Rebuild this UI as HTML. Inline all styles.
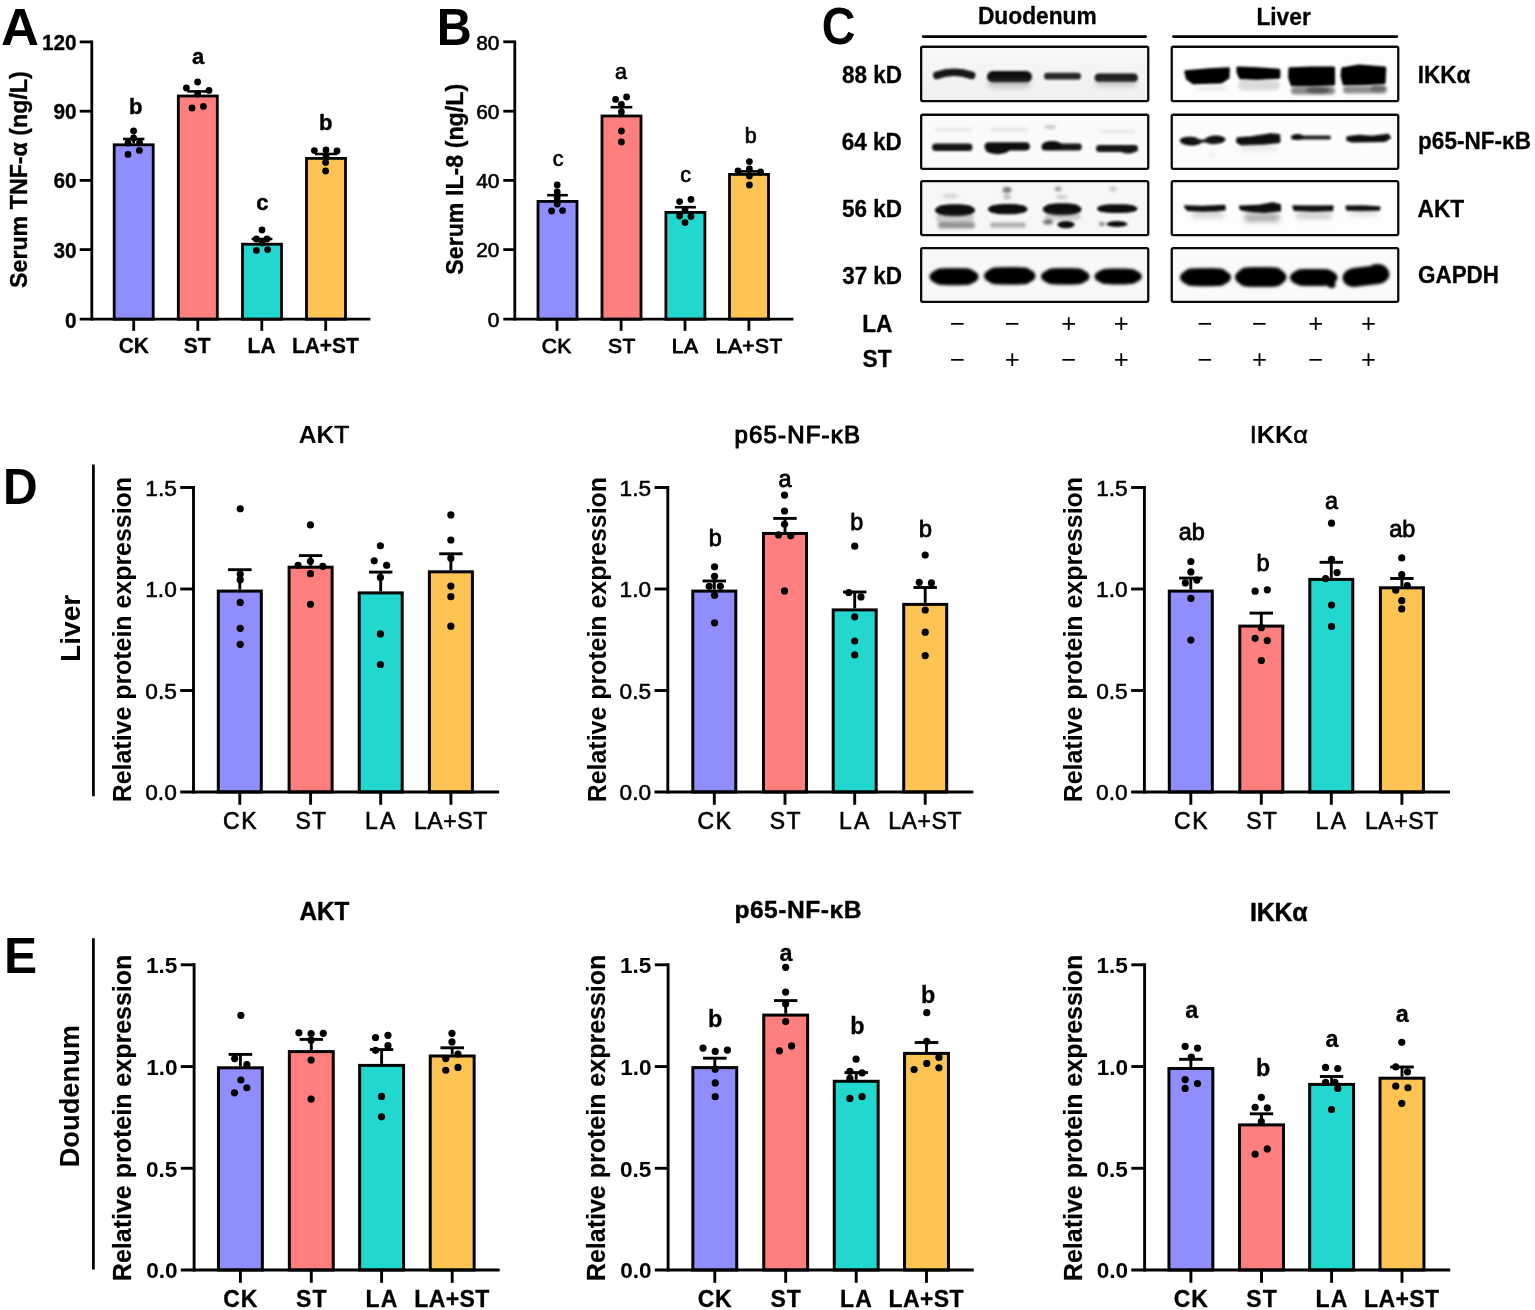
<!DOCTYPE html>
<html lang="en">
<head>
<meta charset="utf-8">
<title>Figure</title>
<style>
html,body{margin:0;padding:0;background:#fff;}
body{width:1535px;height:1310px;overflow:hidden;font-family:"Liberation Sans",sans-serif;}
svg{display:block;}
text{font-family:"Liberation Sans",sans-serif;}
</style>
</head>
<body>
<svg width="1535" height="1310" viewBox="0 0 1535 1310" role="img" aria-label="Figure with panels A to E">
<rect x="0" y="0" width="1535" height="1310" fill="#fff"/>
<g>
<rect x="114.2" y="144.8" width="39" height="174.4" fill="#908EFC" stroke="#000" stroke-width="2.8"/>
<rect x="178.3" y="96" width="39" height="223.2" fill="#FF7F7F" stroke="#000" stroke-width="2.8"/>
<rect x="242.5" y="244.2" width="39" height="75" fill="#22D8CE" stroke="#000" stroke-width="2.8"/>
<rect x="306.5" y="158.4" width="39" height="160.8" fill="#FDC453" stroke="#000" stroke-width="2.8"/>
<line x1="91.8" y1="40.5" x2="91.8" y2="320.6" stroke="#000" stroke-width="2.8"/>
<line x1="79.7" y1="319.2" x2="370.4" y2="319.2" stroke="#000" stroke-width="2.8"/>
<line x1="79.7" y1="41.9" x2="91.8" y2="41.9" stroke="#000" stroke-width="2.8"/>
<line x1="79.7" y1="111.2" x2="91.8" y2="111.2" stroke="#000" stroke-width="2.8"/>
<line x1="79.7" y1="180.4" x2="91.8" y2="180.4" stroke="#000" stroke-width="2.8"/>
<line x1="79.7" y1="249.6" x2="91.8" y2="249.6" stroke="#000" stroke-width="2.8"/>
<line x1="133.7" y1="319.2" x2="133.7" y2="330.8" stroke="#000" stroke-width="2.8"/>
<line x1="197.8" y1="319.2" x2="197.8" y2="330.8" stroke="#000" stroke-width="2.8"/>
<line x1="261.8" y1="319.2" x2="261.8" y2="330.8" stroke="#000" stroke-width="2.8"/>
<line x1="325.7" y1="319.2" x2="325.7" y2="330.8" stroke="#000" stroke-width="2.8"/>
<line x1="133.7" y1="139" x2="133.7" y2="143.4" stroke="#000" stroke-width="2.6"/>
<line x1="123" y1="139" x2="144.4" y2="139" stroke="#000" stroke-width="2.6"/>
<line x1="197.8" y1="91.4" x2="197.8" y2="94.6" stroke="#000" stroke-width="2.6"/>
<line x1="187.3" y1="91.4" x2="208.3" y2="91.4" stroke="#000" stroke-width="2.6"/>
<line x1="262" y1="239" x2="262" y2="242.8" stroke="#000" stroke-width="2.6"/>
<line x1="251.6" y1="239" x2="272.4" y2="239" stroke="#000" stroke-width="2.6"/>
<line x1="326" y1="154" x2="326" y2="157" stroke="#000" stroke-width="2.6"/>
<line x1="315" y1="154" x2="337" y2="154" stroke="#000" stroke-width="2.6"/>
<g fill="#000">
<circle cx="133.6" cy="131" r="3.4"/>
<circle cx="133.6" cy="138" r="3.4"/>
<circle cx="128" cy="143" r="3.4"/>
<circle cx="139.6" cy="142.4" r="3.4"/>
<circle cx="128" cy="154.4" r="3.4"/>
<circle cx="139.4" cy="150.4" r="3.4"/>
<circle cx="197.6" cy="82" r="3.4"/>
<circle cx="186.4" cy="88" r="3.4"/>
<circle cx="209" cy="90.4" r="3.4"/>
<circle cx="192" cy="108" r="3.4"/>
<circle cx="203.4" cy="106.4" r="3.4"/>
<circle cx="197.6" cy="94" r="3.4"/>
<circle cx="262" cy="230" r="3.4"/>
<circle cx="256.4" cy="239" r="3.4"/>
<circle cx="267" cy="239" r="3.4"/>
<circle cx="256.4" cy="250.4" r="3.4"/>
<circle cx="267.6" cy="249.6" r="3.4"/>
<circle cx="262" cy="243" r="3.4"/>
<circle cx="314.4" cy="150.6" r="3.4"/>
<circle cx="326" cy="150" r="3.4"/>
<circle cx="337" cy="151" r="3.4"/>
<circle cx="326" cy="156.4" r="3.4"/>
<circle cx="325.6" cy="162.4" r="3.4"/>
<circle cx="325.6" cy="171" r="3.4"/>
</g>
</g>
<text transform="translate(1.09,44.8) scale(1.0089,1)" font-size="52.07" font-weight="bold">A</text>
<text transform="translate(41.91,50.06) scale(0.9450,1)" font-size="22" font-weight="bold" stroke="#000" stroke-width="0.3" stroke-linejoin="round">120</text>
<text transform="translate(53.5,119.16) scale(0.9450,1)" font-size="22" font-weight="bold" stroke="#000" stroke-width="0.3" stroke-linejoin="round">90</text>
<text transform="translate(53.5,188.36) scale(0.9450,1)" font-size="22" font-weight="bold" stroke="#000" stroke-width="0.3" stroke-linejoin="round">60</text>
<text transform="translate(53.5,257.74) scale(0.9450,1)" font-size="22" font-weight="bold" stroke="#000" stroke-width="0.3" stroke-linejoin="round">30</text>
<text transform="translate(65.04,327.76) scale(0.9450,1)" font-size="22" font-weight="bold" stroke="#000" stroke-width="0.3" stroke-linejoin="round">0</text>
<text transform="translate(118.73,352.9) scale(0.9450,1)" font-size="22.2" font-weight="bold" stroke="#000" stroke-width="0.3" stroke-linejoin="round">CK</text>
<text transform="translate(183.79,352.9) scale(0.9450,1)" font-size="22.2" font-weight="bold" stroke="#000" stroke-width="0.3" stroke-linejoin="round">ST</text>
<text transform="translate(247.6,352.9) scale(0.9450,1)" font-size="22.2" font-weight="bold" stroke="#000" stroke-width="0.3" stroke-linejoin="round">LA</text>
<text transform="translate(291.88,352.9) scale(0.9450,1)" font-size="22.2" font-weight="bold" stroke="#000" stroke-width="0.3" stroke-linejoin="round">LA+ST</text>
<text transform="translate(129.01,113.6)" font-size="22" font-weight="bold" stroke="#000" stroke-width="0.4" stroke-linejoin="round">b</text>
<text transform="translate(191.88,64.4)" font-size="22" font-weight="bold" stroke="#000" stroke-width="0.4" stroke-linejoin="round">a</text>
<text transform="translate(256.26,210)" font-size="22" font-weight="bold" stroke="#000" stroke-width="0.4" stroke-linejoin="round">c</text>
<text transform="translate(319.01,130.4)" font-size="22" font-weight="bold" stroke="#000" stroke-width="0.4" stroke-linejoin="round">b</text>
<text transform="translate(27.3,287.99) rotate(-90) scale(0.9970,1)" font-size="23.3" font-weight="bold" stroke="#000" stroke-width="0.35" stroke-linejoin="round">Serum TNF-α (ng/L)</text>
<g>
<rect x="538" y="201.4" width="39" height="117.8" fill="#908EFC" stroke="#000" stroke-width="2.8"/>
<rect x="602" y="116" width="39" height="203.2" fill="#FF7F7F" stroke="#000" stroke-width="2.8"/>
<rect x="665.9" y="212.4" width="39" height="106.8" fill="#22D8CE" stroke="#000" stroke-width="2.8"/>
<rect x="729.5" y="174.4" width="39" height="144.8" fill="#FDC453" stroke="#000" stroke-width="2.8"/>
<line x1="514.8" y1="40.5" x2="514.8" y2="320.6" stroke="#000" stroke-width="2.8"/>
<line x1="503.3" y1="319.2" x2="793.4" y2="319.2" stroke="#000" stroke-width="2.8"/>
<line x1="503.3" y1="41.8" x2="514.8" y2="41.8" stroke="#000" stroke-width="2.8"/>
<line x1="503.3" y1="111.2" x2="514.8" y2="111.2" stroke="#000" stroke-width="2.8"/>
<line x1="503.3" y1="180.4" x2="514.8" y2="180.4" stroke="#000" stroke-width="2.8"/>
<line x1="503.3" y1="249.6" x2="514.8" y2="249.6" stroke="#000" stroke-width="2.8"/>
<line x1="557" y1="319.2" x2="557" y2="330.8" stroke="#000" stroke-width="2.8"/>
<line x1="621.1" y1="319.2" x2="621.1" y2="330.8" stroke="#000" stroke-width="2.8"/>
<line x1="685" y1="319.2" x2="685" y2="330.8" stroke="#000" stroke-width="2.8"/>
<line x1="748.9" y1="319.2" x2="748.9" y2="330.8" stroke="#000" stroke-width="2.8"/>
<line x1="557.5" y1="195.2" x2="557.5" y2="200" stroke="#000" stroke-width="2.6"/>
<line x1="547.2" y1="195.2" x2="567.8" y2="195.2" stroke="#000" stroke-width="2.6"/>
<line x1="621.5" y1="107.2" x2="621.5" y2="114.6" stroke="#000" stroke-width="2.6"/>
<line x1="610.7" y1="107.2" x2="632.3" y2="107.2" stroke="#000" stroke-width="2.6"/>
<line x1="685.4" y1="207.2" x2="685.4" y2="211" stroke="#000" stroke-width="2.6"/>
<line x1="674.9" y1="207.2" x2="695.9" y2="207.2" stroke="#000" stroke-width="2.6"/>
<line x1="749" y1="171.4" x2="749" y2="173" stroke="#000" stroke-width="2.6"/>
<line x1="738.5" y1="171.4" x2="759.5" y2="171.4" stroke="#000" stroke-width="2.6"/>
<g fill="#000">
<circle cx="557.2" cy="185" r="3.4"/>
<circle cx="557.2" cy="192" r="3.4"/>
<circle cx="557.2" cy="198" r="3.4"/>
<circle cx="557.2" cy="204" r="3.4"/>
<circle cx="551.6" cy="211" r="3.4"/>
<circle cx="562.6" cy="210.6" r="3.4"/>
<circle cx="615.6" cy="99.4" r="3.4"/>
<circle cx="626.6" cy="97" r="3.4"/>
<circle cx="621.4" cy="104.4" r="3.4"/>
<circle cx="621.4" cy="112" r="3.4"/>
<circle cx="621.4" cy="131" r="3.4"/>
<circle cx="621.4" cy="142" r="3.4"/>
<circle cx="679.6" cy="201.6" r="3.4"/>
<circle cx="691" cy="199.4" r="3.4"/>
<circle cx="685" cy="210" r="3.4"/>
<circle cx="679.6" cy="216" r="3.4"/>
<circle cx="691" cy="216.4" r="3.4"/>
<circle cx="685" cy="222.6" r="3.4"/>
<circle cx="749.4" cy="161.6" r="3.4"/>
<circle cx="738" cy="171" r="3.4"/>
<circle cx="749.4" cy="169" r="3.4"/>
<circle cx="760.6" cy="172" r="3.4"/>
<circle cx="749.4" cy="176" r="3.4"/>
<circle cx="749.4" cy="185" r="3.4"/>
</g>
</g>
<text transform="translate(436.82,45) scale(0.9319,1)" font-size="52.07" font-weight="bold">B</text>
<text transform="translate(476.18,49.68)" font-size="20.9" stroke="#000" stroke-width="0.6" stroke-linejoin="round">80</text>
<text transform="translate(476.18,118.78)" font-size="20.9" stroke="#000" stroke-width="0.6" stroke-linejoin="round">60</text>
<text transform="translate(476.18,187.98)" font-size="20.9" stroke="#000" stroke-width="0.6" stroke-linejoin="round">40</text>
<text transform="translate(476.18,257.38)" font-size="20.9" stroke="#000" stroke-width="0.6" stroke-linejoin="round">20</text>
<text transform="translate(487.78,327.38)" font-size="20.9" stroke="#000" stroke-width="0.6" stroke-linejoin="round">0</text>
<text transform="translate(541.7,352.9)" font-size="21" stroke="#000" stroke-width="0.9" stroke-linejoin="round" letter-spacing="0.42">CK</text>
<text transform="translate(608.11,352.9)" font-size="21" stroke="#000" stroke-width="0.9" stroke-linejoin="round" letter-spacing="0.49">ST</text>
<text transform="translate(671.72,352.9)" font-size="21" stroke="#000" stroke-width="0.9" stroke-linejoin="round" letter-spacing="0.61">LA</text>
<text transform="translate(715.82,352.9)" font-size="21" stroke="#000" stroke-width="0.9" stroke-linejoin="round" letter-spacing="0.43">LA+ST</text>
<text transform="translate(552.66,166.3)" font-size="21.5" stroke="#000" stroke-width="0.7" stroke-linejoin="round">c</text>
<text transform="translate(615.05,79.4)" font-size="21.5" stroke="#000" stroke-width="0.7" stroke-linejoin="round">a</text>
<text transform="translate(680.16,181.9)" font-size="21.5" stroke="#000" stroke-width="0.7" stroke-linejoin="round">c</text>
<text transform="translate(744.87,142.9)" font-size="21.5" stroke="#000" stroke-width="0.7" stroke-linejoin="round">b</text>
<text transform="translate(463.3,274.77) rotate(-90) scale(0.9970,1)" font-size="23.3" font-weight="bold" stroke="#000" stroke-width="0.35" stroke-linejoin="round">Serum IL-8 (ng/L)</text>
<defs>
<filter id="bl1" x="-20%" y="-50%" width="140%" height="200%"><feGaussianBlur stdDeviation="1.25"/></filter>
<filter id="bl2" x="-20%" y="-50%" width="140%" height="200%"><feGaussianBlur stdDeviation="1.8"/></filter>
<filter id="bl3" x="-20%" y="-50%" width="140%" height="200%"><feGaussianBlur stdDeviation="2.6"/></filter>
<filter id="bl4" x="-20%" y="-50%" width="140%" height="200%"><feGaussianBlur stdDeviation="1.5"/></filter>
<linearGradient id="gbg" x1="0" y1="0" x2="0" y2="1"><stop offset="0" stop-color="#f8f8f8"/><stop offset="1" stop-color="#f0f0f0"/></linearGradient>
</defs>
<text transform="translate(821.73,44.49) scale(0.9131,1)" font-size="51.17" font-weight="bold">C</text>
<text transform="translate(977.93,23.6) scale(0.9600,1)" font-size="23.7" font-weight="bold" stroke="#000" stroke-width="0.3" stroke-linejoin="round">Duodenum</text>
<text transform="translate(1256.41,24.9) scale(0.9600,1)" font-size="23.7" font-weight="bold" stroke="#000" stroke-width="0.3" stroke-linejoin="round">Liver</text>
<line x1="923.2" y1="36.6" x2="1145.6" y2="36.6" stroke="#000" stroke-width="2.9" stroke-linecap="round"/>
<line x1="1173.6" y1="36.6" x2="1396.8" y2="36.6" stroke="#000" stroke-width="2.9" stroke-linecap="round"/>
<clipPath id="cp00"><rect x="920" y="45.6" width="229.4" height="56.6"/></clipPath>
<rect x="921.15" y="46.75" width="227.1" height="54.3" fill="url(#gbg)"/>
<clipPath id="cp01"><rect x="1170.6" y="45.6" width="228.8" height="56.6"/></clipPath>
<rect x="1171.75" y="46.75" width="226.5" height="54.3" fill="#fdfdfd"/>
<clipPath id="cp10"><rect x="920" y="113.6" width="229.4" height="56.4"/></clipPath>
<rect x="921.15" y="114.75" width="227.1" height="54.1" fill="#fafafa"/>
<clipPath id="cp11"><rect x="1170.6" y="113.6" width="228.8" height="56.4"/></clipPath>
<rect x="1171.75" y="114.75" width="226.5" height="54.1" fill="#fcfcfc"/>
<clipPath id="cp20"><rect x="920" y="180" width="229.4" height="56.2"/></clipPath>
<rect x="921.15" y="181.15" width="227.1" height="53.9" fill="#f7f7f7"/>
<clipPath id="cp21"><rect x="1170.6" y="180" width="228.8" height="56.2"/></clipPath>
<rect x="1171.75" y="181.15" width="226.5" height="53.9" fill="#fdfdfd"/>
<clipPath id="cp30"><rect x="920" y="247" width="229.4" height="56"/></clipPath>
<rect x="921.15" y="248.15" width="227.1" height="53.7" fill="#f8f8f8"/>
<clipPath id="cp31"><rect x="1170.6" y="247" width="228.8" height="56"/></clipPath>
<rect x="1171.75" y="248.15" width="226.5" height="53.7" fill="#fafafa"/>
<g clip-path="url(#cp00)"><g filter="url(#bl1)">
<path d="M936.8,75.4 Q954,69.0 971.6,75.4" fill="none" stroke="#141414" stroke-width="7.6" stroke-linecap="round"/>
<rect x="987" y="71" width="45" height="11.5" rx="5.75" ry="5.75" fill="#101010"/>
<rect x="1044" y="72.8" width="37" height="6.8" rx="3.4" ry="3.4" fill="#1a1a1a" opacity="0.95"/>
<rect x="1094.5" y="73.5" width="43.5" height="8.5" rx="4.25" ry="4.25" fill="#1a1a1a"/>
</g></g>
<g clip-path="url(#cp00)"><g filter="url(#bl3)">
<rect x="988" y="80" width="43" height="8" rx="4" ry="4" fill="#777" opacity="0.35"/>
<rect x="1095" y="80" width="42" height="7" rx="3.5" ry="3.5" fill="#777" opacity="0.3"/>
</g></g>
<g clip-path="url(#cp10)"><g filter="url(#bl1)">
<rect x="932" y="143.5" width="40.5" height="7.5" rx="3.75" ry="3.75" fill="#151515"/>
<rect x="984.5" y="142.2" width="45.5" height="8.4" rx="4.2" ry="4.2" fill="#0c0c0c"/>
<ellipse cx="997.5" cy="149.2" rx="12" ry="5" fill="#0c0c0c"/>
<rect x="1041.5" y="143.5" width="40.3" height="6.9" rx="3.45" ry="3.45" fill="#121212"/>
<ellipse cx="1052" cy="145.6" rx="10" ry="4.6" fill="#0e0e0e"/>
<rect x="1096" y="145" width="42" height="7" rx="3.5" ry="3.5" fill="#151515"/>
<ellipse cx="1128" cy="149.5" rx="9" ry="4" fill="#151515"/>
</g></g>
<g clip-path="url(#cp10)"><g filter="url(#bl2)">
<rect x="935" y="128" width="37" height="3" rx="1.5" ry="1.5" fill="#888" opacity="0.18"/>
<rect x="990" y="128" width="38" height="3" rx="1.5" ry="1.5" fill="#888" opacity="0.2"/>
<ellipse cx="1050" cy="127" rx="6" ry="2" fill="#666" opacity="0.35"/>
<rect x="1099" y="130" width="37" height="3" rx="1.5" ry="1.5" fill="#888" opacity="0.18"/>
</g></g>
<g clip-path="url(#cp20)"><g filter="url(#bl1)">
<rect x="935" y="204.2" width="40" height="12" rx="16" ry="6" fill="#0a0a0a"/>
<rect x="937" y="205.4" width="36" height="9.6" rx="4.8" ry="4.8" fill="#0a0a0a"/>
<rect x="988" y="204" width="39.5" height="10.3" rx="15.8" ry="5.15" fill="#0a0a0a"/>
<rect x="990" y="205.2" width="35.5" height="7.9" rx="3.95" ry="3.95" fill="#0a0a0a"/>
<rect x="1042.8" y="203.3" width="38.7" height="11.9" rx="15.48" ry="5.95" fill="#0a0a0a"/>
<rect x="1044.8" y="204.5" width="34.7" height="9.5" rx="4.75" ry="4.75" fill="#0a0a0a"/>
<rect x="1097" y="204.3" width="40.5" height="8.7" rx="16.2" ry="4.35" fill="#0a0a0a"/>
<rect x="1099" y="205.5" width="36.5" height="6.3" rx="3.15" ry="3.15" fill="#0a0a0a"/>
<ellipse cx="1066" cy="224.6" rx="8.6" ry="3.6" fill="#0c0c0c"/>
<ellipse cx="1117" cy="224" rx="10.5" ry="3" fill="#111"/>
</g></g>
<g clip-path="url(#cp20)"><g filter="url(#bl2)">
<rect x="938" y="222" width="37" height="6.5" rx="3.25" ry="3.25" fill="#555" opacity="0.6"/>
<rect x="990" y="222.5" width="36" height="5" rx="2.5" ry="2.5" fill="#666" opacity="0.5"/>
<ellipse cx="1048" cy="222" rx="5" ry="2.5" fill="#333" opacity="0.7"/>
<ellipse cx="1102" cy="224" rx="3" ry="2" fill="#333" opacity="0.6"/>
<ellipse cx="1007" cy="190" rx="4.5" ry="3" fill="#444" opacity="0.7"/>
<ellipse cx="1007" cy="197" rx="4" ry="2.5" fill="#777" opacity="0.45"/>
<ellipse cx="1058" cy="189" rx="3.5" ry="2.5" fill="#555" opacity="0.55"/>
<ellipse cx="1062" cy="197" rx="6" ry="2.5" fill="#888" opacity="0.35"/>
<ellipse cx="1113" cy="189" rx="3.5" ry="2.5" fill="#777" opacity="0.4"/>
<ellipse cx="950" cy="196" rx="8" ry="3" fill="#999" opacity="0.3"/>
<rect x="936" y="214" width="38" height="8" rx="4" ry="4" fill="#666" opacity="0.3"/>
<rect x="1045" y="213" width="36" height="7" rx="3.5" ry="3.5" fill="#666" opacity="0.3"/>
</g></g>
<g clip-path="url(#cp30)"><g filter="url(#bl4)">
<rect x="929.5" y="268.3" width="49" height="16.9" rx="17.64" ry="8.45" fill="#040404"/>
<rect x="932.5" y="268.6" width="43" height="16.3" rx="8" ry="8" fill="#040404"/>
<rect x="984" y="267.3" width="51.5" height="17.3" rx="18.54" ry="8.65" fill="#040404"/>
<rect x="987" y="267.6" width="45.5" height="16.7" rx="8" ry="8" fill="#040404"/>
<rect x="1041" y="268.3" width="48.5" height="16.3" rx="17.46" ry="8.15" fill="#040404"/>
<rect x="1044" y="268.6" width="42.5" height="15.7" rx="8" ry="8" fill="#040404"/>
<rect x="1094.5" y="268.6" width="47.3" height="15.8" rx="17.03" ry="7.9" fill="#040404"/>
<rect x="1097.5" y="268.9" width="41.3" height="15.2" rx="8" ry="8" fill="#040404"/>
</g></g>
<g clip-path="url(#cp01)"><g filter="url(#bl1)">
<g stroke-linejoin="round" stroke="#050505" stroke-width="3">
<path d="M1185.73,71.76 L1208.86,69.64 L1228.4,68.66 L1228.08,77.46 L1221.07,82.02 L1193.39,82.67 L1187.36,78.44 Z" fill="#050505"/>
<path d="M1237.85,68.01 L1257.72,68.66 L1278.89,70.29 L1278.89,77.13 L1257.72,78.44 L1240.62,77.79 L1238.18,72.57 Z" fill="#050505"/>
<path d="M1289.97,68.66 L1311.47,68.01 L1333.45,68.01 L1333.62,83.97 L1311.47,84.95 L1291.92,84.63 L1289.64,77.46 Z" fill="#020202"/>
<path d="M1342.74,68.66 L1359.02,66.06 L1384.76,68.01 L1384.1,82.67 L1363.58,83.65 L1344.04,83.97 L1342.08,75.83 Z" fill="#020202"/>
</g>
</g></g>
<g clip-path="url(#cp01)"><g filter="url(#bl2)">
<rect x="1291" y="86.5" width="44" height="8" rx="4" ry="4" fill="#3a3a3a" opacity="0.6"/>
<ellipse cx="1318" cy="90" rx="12" ry="4" fill="#222" opacity="0.45"/>
<rect x="1343" y="86" width="44" height="7.5" rx="3.75" ry="3.75" fill="#444" opacity="0.6"/>
<ellipse cx="1378" cy="88" rx="8" ry="4" fill="#333" opacity="0.4"/>
<rect x="1238" y="80" width="42" height="10.5" rx="5.25" ry="5.25" fill="#999" opacity="0.33"/>
<rect x="1197" y="86" width="30" height="5" rx="2.5" ry="2.5" fill="#bbb" opacity="0.25"/>
</g></g>
<g clip-path="url(#cp11)"><g filter="url(#bl1)">
<ellipse cx="1190.5" cy="141.2" rx="10.8" ry="4.4" fill="#0e0e0e" transform="rotate(4 1190.5 141.2)"/>
<ellipse cx="1215" cy="139.8" rx="10.5" ry="4.3" fill="#0e0e0e" transform="rotate(-3 1215 139.8)"/>
<rect x="1188" y="139.4" width="32" height="3" rx="1.5" ry="1.5" fill="#181818"/>
<g stroke-linejoin="round" stroke="#0a0a0a" stroke-width="2.5">
<path d="M1237.85,138.53 L1251.21,137.39 L1270.75,134.46 L1278.89,135.28 L1279.22,141.79 L1264.23,143.58 L1241.43,144.23 L1237.2,141.79 Z" fill="#0a0a0a"/>
<path d="M1347.62,137.39 L1358.7,136.09 L1371.73,137.07 L1388.01,135.11 L1389.64,137.72 L1384.76,140.65 L1368.47,140.98 L1352.18,141.3 L1347.3,139.67 Z" fill="#0e0e0e"/>
</g>
<rect x="1291" y="135.4" width="40" height="4" rx="2" ry="2" fill="#222"/>
<ellipse cx="1297.5" cy="137" rx="6.5" ry="2.9" fill="#111"/>
</g></g>
<g clip-path="url(#cp11)"><g filter="url(#bl3)">
<rect x="1240" y="145" width="38" height="6" rx="3" ry="3" fill="#aaa" opacity="0.25"/>
<ellipse cx="1212" cy="154.5" rx="2" ry="1.5" fill="#888" opacity="0.5"/>
</g></g>
<g clip-path="url(#cp21)"><g filter="url(#bl1)">
<g stroke-linejoin="round" stroke="#0c0c0c" stroke-width="2.5">
<path d="M1185.24,206.45 L1202.35,207.1 L1224.33,206.12 L1224.5,209.38 L1217,210.36 L1202.35,210.68 L1187.69,209.71 Z" fill="#0c0c0c"/>
<path d="M1240.13,206.78 L1257.72,206.12 L1272.38,203.52 L1279.71,205.15 L1279.87,210.36 L1264.23,211.99 L1251.21,211.01 L1241.11,209.38 Z" fill="#0a0a0a"/>
<path d="M1293.55,206.45 L1313.09,206.78 L1332.31,206.45 L1331.99,210.03 L1313.09,210.68 L1294.53,209.71 Z" fill="#0c0c0c"/>
<path d="M1346.64,206.78 L1361.95,206.45 L1379.22,207.43 L1378.89,209.38 L1361.95,210.03 L1347.3,209.38 Z" fill="#101010"/>
</g>
</g></g>
<g clip-path="url(#cp21)"><g filter="url(#bl3)">
<rect x="1192" y="212" width="32" height="6" rx="3" ry="3" fill="#888" opacity="0.35"/>
<rect x="1244" y="213" width="36" height="9" rx="4.5" ry="4.5" fill="#555" opacity="0.45"/>
<rect x="1296" y="212" width="36" height="7" rx="3.5" ry="3.5" fill="#888" opacity="0.4"/>
<rect x="1350" y="211" width="28" height="5" rx="2.5" ry="2.5" fill="#999" opacity="0.3"/>
</g></g>
<g clip-path="url(#cp31)"><g filter="url(#bl4)">
<rect x="1180" y="268.3" width="51" height="17.9" rx="18.36" ry="8.95" fill="#030303"/>
<rect x="1183" y="268.6" width="45" height="17.3" rx="8" ry="8" fill="#030303"/>
<rect x="1235" y="267.3" width="51.5" height="19.5" rx="18.54" ry="9.75" fill="#030303"/>
<rect x="1238" y="267.6" width="45.5" height="18.9" rx="8" ry="8" fill="#030303"/>
<rect x="1290" y="269" width="47.5" height="17" rx="17.1" ry="8.5" fill="#030303"/>
<rect x="1293" y="269.3" width="41.5" height="16.4" rx="8" ry="8" fill="#030303"/>
<rect x="1342.5" y="266.5" width="47" height="19" rx="12" ry="9.5" fill="#030303" transform="rotate(-7 1366 276)"/>
<ellipse cx="1377.5" cy="272.5" rx="11" ry="8.5" fill="#030303"/>
<ellipse cx="1331.5" cy="284.5" rx="4" ry="3.6" fill="#030303"/>
</g></g>
<rect x="921.15" y="46.75" width="227.1" height="54.3" fill="none" stroke="#0a0a0a" stroke-width="2.3" rx="1.6"/>
<rect x="1171.75" y="46.75" width="226.5" height="54.3" fill="none" stroke="#0a0a0a" stroke-width="2.3" rx="1.6"/>
<rect x="921.15" y="114.75" width="227.1" height="54.1" fill="none" stroke="#0a0a0a" stroke-width="2.3" rx="1.6"/>
<rect x="1171.75" y="114.75" width="226.5" height="54.1" fill="none" stroke="#0a0a0a" stroke-width="2.3" rx="1.6"/>
<rect x="921.15" y="181.15" width="227.1" height="53.9" fill="none" stroke="#0a0a0a" stroke-width="2.3" rx="1.6"/>
<rect x="1171.75" y="181.15" width="226.5" height="53.9" fill="none" stroke="#0a0a0a" stroke-width="2.3" rx="1.6"/>
<rect x="921.15" y="248.15" width="227.1" height="53.7" fill="none" stroke="#0a0a0a" stroke-width="2.3" rx="1.6"/>
<rect x="1171.75" y="248.15" width="226.5" height="53.7" fill="none" stroke="#0a0a0a" stroke-width="2.3" rx="1.6"/>
<text transform="translate(841.92,83.1) scale(0.9650,1)" font-size="23.3" font-weight="bold" stroke="#000" stroke-width="0.3" stroke-linejoin="round">88 kD</text>
<text transform="translate(841.81,150.2) scale(0.9650,1)" font-size="23.3" font-weight="bold" stroke="#000" stroke-width="0.3" stroke-linejoin="round">64 kD</text>
<text transform="translate(841.98,216.9) scale(0.9650,1)" font-size="23.3" font-weight="bold" stroke="#000" stroke-width="0.3" stroke-linejoin="round">56 kD</text>
<text transform="translate(842.14,283.5) scale(0.9650,1)" font-size="23.3" font-weight="bold" stroke="#000" stroke-width="0.3" stroke-linejoin="round">37 kD</text>
<text transform="translate(1417.83,83.3) scale(0.9570,1)" font-size="23.5" font-weight="bold" stroke="#000" stroke-width="0.3" stroke-linejoin="round">IKKα</text>
<text transform="translate(1418.08,149.1) scale(0.9530,1)" font-size="23.7" font-weight="bold" stroke="#000" stroke-width="0.3" stroke-linejoin="round">p65-NF-κB</text>
<text transform="translate(1417.58,216.5) scale(0.9570,1)" font-size="23.7" font-weight="bold" stroke="#000" stroke-width="0.3" stroke-linejoin="round">AKT</text>
<text transform="translate(1418.05,282.7) scale(0.9450,1)" font-size="23.7" font-weight="bold" stroke="#000" stroke-width="0.3" stroke-linejoin="round">GAPDH</text>
<text transform="translate(862.21,332.3) scale(0.9600,1)" font-size="23.7" font-weight="bold" stroke="#000" stroke-width="0.3" stroke-linejoin="round">LA</text>
<text transform="translate(862.47,366.5) scale(0.9600,1)" font-size="23.7" font-weight="bold" stroke="#000" stroke-width="0.3" stroke-linejoin="round">ST</text>
<text transform="translate(949.97,331.58) scale(1.0300,1)" font-size="25">−</text>
<text transform="translate(949.97,367.58) scale(1.0300,1)" font-size="25">−</text>
<text transform="translate(1004.77,331.58) scale(1.0300,1)" font-size="25">−</text>
<text transform="translate(1004.8,367.61) scale(1.0300,1)" font-size="25">+</text>
<text transform="translate(1061.2,331.61) scale(1.0300,1)" font-size="25">+</text>
<text transform="translate(1061.17,367.58) scale(1.0300,1)" font-size="25">−</text>
<text transform="translate(1113.8,331.61) scale(1.0300,1)" font-size="25">+</text>
<text transform="translate(1113.8,367.61) scale(1.0300,1)" font-size="25">+</text>
<text transform="translate(1197.47,331.58) scale(1.0300,1)" font-size="25">−</text>
<text transform="translate(1197.47,367.58) scale(1.0300,1)" font-size="25">−</text>
<text transform="translate(1252.07,331.58) scale(1.0300,1)" font-size="25">−</text>
<text transform="translate(1252.1,367.61) scale(1.0300,1)" font-size="25">+</text>
<text transform="translate(1308.3,331.61) scale(1.0300,1)" font-size="25">+</text>
<text transform="translate(1308.27,367.58) scale(1.0300,1)" font-size="25">−</text>
<text transform="translate(1361,331.61) scale(1.0300,1)" font-size="25">+</text>
<text transform="translate(1361,367.61) scale(1.0300,1)" font-size="25">+</text>
<g>
<rect x="218.3" y="591.1" width="43" height="200.9" fill="#908EFC" stroke="#000" stroke-width="3"/>
<rect x="289.1" y="567.2" width="43" height="224.8" fill="#FF7F7F" stroke="#000" stroke-width="3"/>
<rect x="359.2" y="592.9" width="43" height="199.1" fill="#22D8CE" stroke="#000" stroke-width="3"/>
<rect x="429.4" y="571.8" width="43" height="220.2" fill="#FDC453" stroke="#000" stroke-width="3"/>
<line x1="193.5" y1="486.05" x2="193.5" y2="793.45" stroke="#000" stroke-width="2.9"/>
<line x1="180.2" y1="792" x2="499.1" y2="792" stroke="#000" stroke-width="2.9"/>
<line x1="180.2" y1="487.5" x2="193.5" y2="487.5" stroke="#000" stroke-width="2.9"/>
<line x1="180.2" y1="589" x2="193.5" y2="589" stroke="#000" stroke-width="2.9"/>
<line x1="180.2" y1="690.5" x2="193.5" y2="690.5" stroke="#000" stroke-width="2.9"/>
<line x1="239.8" y1="792" x2="239.8" y2="804.8" stroke="#000" stroke-width="2.9"/>
<line x1="310.6" y1="792" x2="310.6" y2="804.8" stroke="#000" stroke-width="2.9"/>
<line x1="380.7" y1="792" x2="380.7" y2="804.8" stroke="#000" stroke-width="2.9"/>
<line x1="450.9" y1="792" x2="450.9" y2="804.8" stroke="#000" stroke-width="2.9"/>
<line x1="239.8" y1="569.7" x2="239.8" y2="589.6" stroke="#000" stroke-width="2.9"/>
<line x1="228" y1="569.7" x2="251.6" y2="569.7" stroke="#000" stroke-width="2.9"/>
<line x1="310.6" y1="555.6" x2="310.6" y2="565.7" stroke="#000" stroke-width="2.9"/>
<line x1="298.9" y1="555.6" x2="322.3" y2="555.6" stroke="#000" stroke-width="2.9"/>
<line x1="380.7" y1="572.1" x2="380.7" y2="591.4" stroke="#000" stroke-width="2.9"/>
<line x1="369" y1="572.1" x2="392.4" y2="572.1" stroke="#000" stroke-width="2.9"/>
<line x1="450.9" y1="553.8" x2="450.9" y2="570.3" stroke="#000" stroke-width="2.9"/>
<line x1="439.2" y1="553.8" x2="462.6" y2="553.8" stroke="#000" stroke-width="2.9"/>
<g fill="#000">
<circle cx="240.22" cy="508.76" r="3.6"/>
<circle cx="240.22" cy="574.1" r="3.6"/>
<circle cx="240.22" cy="579.64" r="3.6"/>
<circle cx="240.22" cy="602.46" r="3.6"/>
<circle cx="240.22" cy="628.37" r="3.6"/>
<circle cx="240.22" cy="644.32" r="3.6"/>
<circle cx="310.43" cy="524.93" r="3.6"/>
<circle cx="298.03" cy="565.24" r="3.6"/>
<circle cx="310.43" cy="561.26" r="3.6"/>
<circle cx="322.83" cy="566.35" r="3.6"/>
<circle cx="310.43" cy="573.66" r="3.6"/>
<circle cx="310.43" cy="604.23" r="3.6"/>
<circle cx="380.42" cy="545.75" r="3.6"/>
<circle cx="374.22" cy="560.81" r="3.6"/>
<circle cx="386.63" cy="565.24" r="3.6"/>
<circle cx="380.42" cy="577.43" r="3.6"/>
<circle cx="380.42" cy="633.91" r="3.6"/>
<circle cx="380.42" cy="664.48" r="3.6"/>
<circle cx="450.86" cy="514.96" r="3.6"/>
<circle cx="450.86" cy="539.99" r="3.6"/>
<circle cx="450.86" cy="558.16" r="3.6"/>
<circle cx="450.86" cy="586.07" r="3.6"/>
<circle cx="450.86" cy="596.7" r="3.6"/>
<circle cx="450.86" cy="626.16" r="3.6"/>
</g>
</g>
<g>
<rect x="692.8" y="591.1" width="43" height="200.9" fill="#908EFC" stroke="#000" stroke-width="3"/>
<rect x="763.5" y="533.5" width="43" height="258.5" fill="#FF7F7F" stroke="#000" stroke-width="3"/>
<rect x="833.2" y="609.9" width="43" height="182.1" fill="#22D8CE" stroke="#000" stroke-width="3"/>
<rect x="903.7" y="604.4" width="43" height="187.6" fill="#FDC453" stroke="#000" stroke-width="3"/>
<line x1="667.8" y1="486.05" x2="667.8" y2="793.45" stroke="#000" stroke-width="2.9"/>
<line x1="654.5" y1="792" x2="973.4" y2="792" stroke="#000" stroke-width="2.9"/>
<line x1="654.5" y1="487.5" x2="667.8" y2="487.5" stroke="#000" stroke-width="2.9"/>
<line x1="654.5" y1="589" x2="667.8" y2="589" stroke="#000" stroke-width="2.9"/>
<line x1="654.5" y1="690.5" x2="667.8" y2="690.5" stroke="#000" stroke-width="2.9"/>
<line x1="714.3" y1="792" x2="714.3" y2="804.8" stroke="#000" stroke-width="2.9"/>
<line x1="785" y1="792" x2="785" y2="804.8" stroke="#000" stroke-width="2.9"/>
<line x1="854.7" y1="792" x2="854.7" y2="804.8" stroke="#000" stroke-width="2.9"/>
<line x1="925.2" y1="792" x2="925.2" y2="804.8" stroke="#000" stroke-width="2.9"/>
<line x1="714.3" y1="581" x2="714.3" y2="589.6" stroke="#000" stroke-width="2.9"/>
<line x1="702.6" y1="581" x2="726" y2="581" stroke="#000" stroke-width="2.9"/>
<line x1="785" y1="518.4" x2="785" y2="532" stroke="#000" stroke-width="2.9"/>
<line x1="773.3" y1="518.4" x2="796.7" y2="518.4" stroke="#000" stroke-width="2.9"/>
<line x1="854.7" y1="592" x2="854.7" y2="608.4" stroke="#000" stroke-width="2.9"/>
<line x1="843" y1="592" x2="866.4" y2="592" stroke="#000" stroke-width="2.9"/>
<line x1="925.2" y1="587.5" x2="925.2" y2="602.9" stroke="#000" stroke-width="2.9"/>
<line x1="913.5" y1="587.5" x2="936.9" y2="587.5" stroke="#000" stroke-width="2.9"/>
<g fill="#000">
<circle cx="714.55" cy="566.79" r="3.6"/>
<circle cx="714.55" cy="576.32" r="3.6"/>
<circle cx="709.23" cy="586.29" r="3.6"/>
<circle cx="720.31" cy="586.29" r="3.6"/>
<circle cx="714.55" cy="595.15" r="3.6"/>
<circle cx="714.55" cy="622.83" r="3.6"/>
<circle cx="784.54" cy="495.03" r="3.6"/>
<circle cx="784.54" cy="510.98" r="3.6"/>
<circle cx="784.54" cy="524.27" r="3.6"/>
<circle cx="778.56" cy="534.9" r="3.6"/>
<circle cx="790.75" cy="535.79" r="3.6"/>
<circle cx="784.54" cy="590.94" r="3.6"/>
<circle cx="854.76" cy="546.2" r="3.6"/>
<circle cx="848.78" cy="592.49" r="3.6"/>
<circle cx="860.96" cy="596.92" r="3.6"/>
<circle cx="854.76" cy="616.85" r="3.6"/>
<circle cx="854.76" cy="641" r="3.6"/>
<circle cx="854.76" cy="654.95" r="3.6"/>
<circle cx="925.2" cy="555.06" r="3.6"/>
<circle cx="919.22" cy="582.3" r="3.6"/>
<circle cx="931.4" cy="582.96" r="3.6"/>
<circle cx="925.2" cy="609.99" r="3.6"/>
<circle cx="925.2" cy="632.14" r="3.6"/>
<circle cx="925.2" cy="655.62" r="3.6"/>
</g>
</g>
<g>
<rect x="1169.3" y="591.1" width="43" height="200.9" fill="#908EFC" stroke="#000" stroke-width="3"/>
<rect x="1239.8" y="626.1" width="43" height="165.9" fill="#FF7F7F" stroke="#000" stroke-width="3"/>
<rect x="1309.8" y="579.4" width="43" height="212.6" fill="#22D8CE" stroke="#000" stroke-width="3"/>
<rect x="1380.4" y="587.8" width="43" height="204.2" fill="#FDC453" stroke="#000" stroke-width="3"/>
<line x1="1144.4" y1="486.05" x2="1144.4" y2="793.45" stroke="#000" stroke-width="2.9"/>
<line x1="1131.1" y1="792" x2="1450" y2="792" stroke="#000" stroke-width="2.9"/>
<line x1="1131.1" y1="487.5" x2="1144.4" y2="487.5" stroke="#000" stroke-width="2.9"/>
<line x1="1131.1" y1="589" x2="1144.4" y2="589" stroke="#000" stroke-width="2.9"/>
<line x1="1131.1" y1="690.5" x2="1144.4" y2="690.5" stroke="#000" stroke-width="2.9"/>
<line x1="1190.8" y1="792" x2="1190.8" y2="804.8" stroke="#000" stroke-width="2.9"/>
<line x1="1261.3" y1="792" x2="1261.3" y2="804.8" stroke="#000" stroke-width="2.9"/>
<line x1="1331.3" y1="792" x2="1331.3" y2="804.8" stroke="#000" stroke-width="2.9"/>
<line x1="1401.9" y1="792" x2="1401.9" y2="804.8" stroke="#000" stroke-width="2.9"/>
<line x1="1190.8" y1="578.1" x2="1190.8" y2="589.6" stroke="#000" stroke-width="2.9"/>
<line x1="1179.1" y1="578.1" x2="1202.5" y2="578.1" stroke="#000" stroke-width="2.9"/>
<line x1="1261.3" y1="613.1" x2="1261.3" y2="624.6" stroke="#000" stroke-width="2.9"/>
<line x1="1249.6" y1="613.1" x2="1273" y2="613.1" stroke="#000" stroke-width="2.9"/>
<line x1="1331.3" y1="562.3" x2="1331.3" y2="577.9" stroke="#000" stroke-width="2.9"/>
<line x1="1319.6" y1="562.3" x2="1343" y2="562.3" stroke="#000" stroke-width="2.9"/>
<line x1="1401.9" y1="578.5" x2="1401.9" y2="586.3" stroke="#000" stroke-width="2.9"/>
<line x1="1390.2" y1="578.5" x2="1413.6" y2="578.5" stroke="#000" stroke-width="2.9"/>
<g fill="#000">
<circle cx="1190.88" cy="561.48" r="3.6"/>
<circle cx="1190.88" cy="571.89" r="3.6"/>
<circle cx="1185.34" cy="582.96" r="3.6"/>
<circle cx="1196.86" cy="580.08" r="3.6"/>
<circle cx="1190.88" cy="598.47" r="3.6"/>
<circle cx="1190.88" cy="640.11" r="3.6"/>
<circle cx="1255.11" cy="591.16" r="3.6"/>
<circle cx="1267.3" cy="589.83" r="3.6"/>
<circle cx="1261.32" cy="627.71" r="3.6"/>
<circle cx="1255.11" cy="638.34" r="3.6"/>
<circle cx="1267.3" cy="640.55" r="3.6"/>
<circle cx="1261.32" cy="660.49" r="3.6"/>
<circle cx="1331.53" cy="523.16" r="3.6"/>
<circle cx="1331.53" cy="559.26" r="3.6"/>
<circle cx="1337.07" cy="572.55" r="3.6"/>
<circle cx="1325.55" cy="578.53" r="3.6"/>
<circle cx="1331.53" cy="605.11" r="3.6"/>
<circle cx="1331.53" cy="626.38" r="3.6"/>
<circle cx="1401.75" cy="557.93" r="3.6"/>
<circle cx="1401.75" cy="574.55" r="3.6"/>
<circle cx="1407.28" cy="585.62" r="3.6"/>
<circle cx="1395.77" cy="590.27" r="3.6"/>
<circle cx="1401.75" cy="600.68" r="3.6"/>
<circle cx="1401.75" cy="608.88" r="3.6"/>
</g>
</g>
<text transform="translate(2.96,504) scale(0.9483,1)" font-size="50.62" font-weight="bold">D</text>
<line x1="93.4" y1="464.4" x2="93.4" y2="796.2" stroke="#000" stroke-width="2.8"/>
<text transform="translate(79.8,662.04) rotate(-90)" font-size="28.2" font-weight="bold">Liver</text>
<text transform="translate(131.2,802.26) rotate(-90) scale(0.9550,1)" font-size="26.1" font-weight="bold">Relative protein expression</text>
<text transform="translate(145.28,495.69)" font-size="22.7" stroke="#000" stroke-width="0.55" stroke-linejoin="round">1.5</text>
<text transform="translate(145.22,597.3)" font-size="22.7" stroke="#000" stroke-width="0.55" stroke-linejoin="round">1.0</text>
<text transform="translate(145.28,698.8)" font-size="22.7" stroke="#000" stroke-width="0.55" stroke-linejoin="round">0.5</text>
<text transform="translate(145.22,800.3)" font-size="22.7" stroke="#000" stroke-width="0.55" stroke-linejoin="round">0.0</text>
<text transform="translate(605.5,802.26) rotate(-90) scale(0.9550,1)" font-size="26.1" font-weight="bold">Relative protein expression</text>
<text transform="translate(619.58,495.69)" font-size="22.7" stroke="#000" stroke-width="0.55" stroke-linejoin="round">1.5</text>
<text transform="translate(619.52,597.3)" font-size="22.7" stroke="#000" stroke-width="0.55" stroke-linejoin="round">1.0</text>
<text transform="translate(619.58,698.8)" font-size="22.7" stroke="#000" stroke-width="0.55" stroke-linejoin="round">0.5</text>
<text transform="translate(619.52,800.3)" font-size="22.7" stroke="#000" stroke-width="0.55" stroke-linejoin="round">0.0</text>
<text transform="translate(1082.1,802.26) rotate(-90) scale(0.9550,1)" font-size="26.1" font-weight="bold">Relative protein expression</text>
<text transform="translate(1096.18,495.69)" font-size="22.7" stroke="#000" stroke-width="0.55" stroke-linejoin="round">1.5</text>
<text transform="translate(1096.12,597.3)" font-size="22.7" stroke="#000" stroke-width="0.55" stroke-linejoin="round">1.0</text>
<text transform="translate(1096.18,698.8)" font-size="22.7" stroke="#000" stroke-width="0.55" stroke-linejoin="round">0.5</text>
<text transform="translate(1096.12,800.3)" font-size="22.7" stroke="#000" stroke-width="0.55" stroke-linejoin="round">0.0</text>
<text transform="translate(223.05,829)" font-size="23" stroke="#000" stroke-width="0.6" stroke-linejoin="round" letter-spacing="1.47">CK</text>
<text transform="translate(295.46,829)" font-size="23" stroke="#000" stroke-width="0.6" stroke-linejoin="round" letter-spacing="1.17">ST</text>
<text transform="translate(365,829)" font-size="23" stroke="#000" stroke-width="0.6" stroke-linejoin="round" letter-spacing="2.24">LA</text>
<text transform="translate(413.9,829)" font-size="23" stroke="#000" stroke-width="0.6" stroke-linejoin="round" letter-spacing="0.61">LA+ST</text>
<text transform="translate(697.55,829)" font-size="23" stroke="#000" stroke-width="0.6" stroke-linejoin="round" letter-spacing="1.47">CK</text>
<text transform="translate(769.87,829)" font-size="23" stroke="#000" stroke-width="0.6" stroke-linejoin="round" letter-spacing="1.17">ST</text>
<text transform="translate(839,829)" font-size="23" stroke="#000" stroke-width="0.6" stroke-linejoin="round" letter-spacing="2.24">LA</text>
<text transform="translate(888.2,829)" font-size="23" stroke="#000" stroke-width="0.6" stroke-linejoin="round" letter-spacing="0.61">LA+ST</text>
<text transform="translate(1174.05,829)" font-size="23" stroke="#000" stroke-width="0.6" stroke-linejoin="round" letter-spacing="1.47">CK</text>
<text transform="translate(1246.16,829)" font-size="23" stroke="#000" stroke-width="0.6" stroke-linejoin="round" letter-spacing="1.17">ST</text>
<text transform="translate(1315.6,829)" font-size="23" stroke="#000" stroke-width="0.6" stroke-linejoin="round" letter-spacing="2.24">LA</text>
<text transform="translate(1364.9,829)" font-size="23" stroke="#000" stroke-width="0.6" stroke-linejoin="round" letter-spacing="0.61">LA+ST</text>
<text transform="translate(298.78,442.7) scale(1.0088,1)" font-size="24.4"><tspan font-weight="bold">AK</tspan><tspan font-weight="normal" stroke="#000" stroke-width="0.7" stroke-linejoin="round">T</tspan></text>
<text transform="translate(734.59,442.7)" font-size="24" stroke="#000" stroke-width="1.1" stroke-linejoin="round" letter-spacing="1.16">p65-NF-κB</text>
<text transform="translate(1249.66,442.7) scale(1.0379,1)" font-size="24.4"><tspan font-weight="normal" stroke="#000" stroke-width="0.5" stroke-linejoin="round">I</tspan><tspan font-weight="bold">KK</tspan><tspan font-weight="normal" stroke="#000" stroke-width="0.6" stroke-linejoin="round">α</tspan></text>
<text transform="translate(708.81,545.6)" font-size="23.4" stroke="#000" stroke-width="0.85" stroke-linejoin="round">b</text>
<text transform="translate(778.58,487.4)" font-size="23.4" stroke="#000" stroke-width="0.85" stroke-linejoin="round">a</text>
<text transform="translate(850.31,529.9)" font-size="23.4" stroke="#000" stroke-width="0.85" stroke-linejoin="round">b</text>
<text transform="translate(919.01,536.6)" font-size="23.4" stroke="#000" stroke-width="0.85" stroke-linejoin="round">b</text>
<text transform="translate(1178.78,540.1)" font-size="23.4" stroke="#000" stroke-width="0.85" stroke-linejoin="round">ab</text>
<text transform="translate(1256.41,570.5)" font-size="23.4" stroke="#000" stroke-width="0.85" stroke-linejoin="round">b</text>
<text transform="translate(1325.08,509.1)" font-size="23.4" stroke="#000" stroke-width="0.85" stroke-linejoin="round">a</text>
<text transform="translate(1389.18,537.3)" font-size="23.4" stroke="#000" stroke-width="0.85" stroke-linejoin="round">ab</text>
<g>
<rect x="218.45" y="1067.8" width="43.9" height="202.2" fill="#908EFC" stroke="#000" stroke-width="3"/>
<rect x="289.35" y="1051.6" width="43.9" height="218.4" fill="#FF7F7F" stroke="#000" stroke-width="3"/>
<rect x="359.65" y="1065.4" width="43.9" height="204.6" fill="#22D8CE" stroke="#000" stroke-width="3"/>
<rect x="430.25" y="1056" width="43.9" height="214" fill="#FDC453" stroke="#000" stroke-width="3"/>
<line x1="194.1" y1="963.35" x2="194.1" y2="1271.45" stroke="#000" stroke-width="2.9"/>
<line x1="180.8" y1="1270" x2="499.7" y2="1270" stroke="#000" stroke-width="2.9"/>
<line x1="180.8" y1="964.8" x2="194.1" y2="964.8" stroke="#000" stroke-width="2.9"/>
<line x1="180.8" y1="1066.53" x2="194.1" y2="1066.53" stroke="#000" stroke-width="2.9"/>
<line x1="180.8" y1="1168.27" x2="194.1" y2="1168.27" stroke="#000" stroke-width="2.9"/>
<line x1="240.4" y1="1270" x2="240.4" y2="1282.8" stroke="#000" stroke-width="2.9"/>
<line x1="311.3" y1="1270" x2="311.3" y2="1282.8" stroke="#000" stroke-width="2.9"/>
<line x1="381.6" y1="1270" x2="381.6" y2="1282.8" stroke="#000" stroke-width="2.9"/>
<line x1="452.2" y1="1270" x2="452.2" y2="1282.8" stroke="#000" stroke-width="2.9"/>
<line x1="240.4" y1="1054.4" x2="240.4" y2="1066.3" stroke="#000" stroke-width="2.9"/>
<line x1="228.6" y1="1054.4" x2="252.2" y2="1054.4" stroke="#000" stroke-width="2.9"/>
<line x1="311.3" y1="1039.4" x2="311.3" y2="1050.1" stroke="#000" stroke-width="2.9"/>
<line x1="299.6" y1="1039.4" x2="323" y2="1039.4" stroke="#000" stroke-width="2.9"/>
<line x1="381.6" y1="1049.6" x2="381.6" y2="1063.9" stroke="#000" stroke-width="2.9"/>
<line x1="369.9" y1="1049.6" x2="393.3" y2="1049.6" stroke="#000" stroke-width="2.9"/>
<line x1="452.2" y1="1047.8" x2="452.2" y2="1054.5" stroke="#000" stroke-width="2.9"/>
<line x1="440.4" y1="1047.8" x2="464" y2="1047.8" stroke="#000" stroke-width="2.9"/>
<g fill="#000">
<circle cx="240.88" cy="1015.34" r="3.6"/>
<circle cx="234.68" cy="1058.53" r="3.6"/>
<circle cx="246.86" cy="1064.51" r="3.6"/>
<circle cx="240.88" cy="1080.02" r="3.6"/>
<circle cx="246.86" cy="1087.77" r="3.6"/>
<circle cx="234.46" cy="1092.87" r="3.6"/>
<circle cx="298.91" cy="1032.84" r="3.6"/>
<circle cx="311.09" cy="1033.5" r="3.6"/>
<circle cx="323.28" cy="1033.28" r="3.6"/>
<circle cx="311.09" cy="1040.15" r="3.6"/>
<circle cx="311.09" cy="1060.08" r="3.6"/>
<circle cx="311.09" cy="1099.07" r="3.6"/>
<circle cx="375.55" cy="1037.49" r="3.6"/>
<circle cx="387.95" cy="1035.28" r="3.6"/>
<circle cx="375.55" cy="1050.34" r="3.6"/>
<circle cx="387.95" cy="1045.69" r="3.6"/>
<circle cx="381.53" cy="1096.41" r="3.6"/>
<circle cx="381.53" cy="1116.79" r="3.6"/>
<circle cx="451.97" cy="1033.28" r="3.6"/>
<circle cx="451.97" cy="1041.92" r="3.6"/>
<circle cx="457.95" cy="1054.1" r="3.6"/>
<circle cx="445.77" cy="1058.53" r="3.6"/>
<circle cx="445.77" cy="1070.27" r="3.6"/>
<circle cx="457.95" cy="1067.39" r="3.6"/>
</g>
</g>
<g>
<rect x="692.85" y="1067.6" width="43.9" height="202.4" fill="#908EFC" stroke="#000" stroke-width="3"/>
<rect x="763.75" y="1015.1" width="43.9" height="254.9" fill="#FF7F7F" stroke="#000" stroke-width="3"/>
<rect x="834.25" y="1081.3" width="43.9" height="188.7" fill="#22D8CE" stroke="#000" stroke-width="3"/>
<rect x="904.55" y="1053.4" width="43.9" height="216.6" fill="#FDC453" stroke="#000" stroke-width="3"/>
<line x1="668.1" y1="963.35" x2="668.1" y2="1271.45" stroke="#000" stroke-width="2.9"/>
<line x1="654.8" y1="1270" x2="973.7" y2="1270" stroke="#000" stroke-width="2.9"/>
<line x1="654.8" y1="964.8" x2="668.1" y2="964.8" stroke="#000" stroke-width="2.9"/>
<line x1="654.8" y1="1066.53" x2="668.1" y2="1066.53" stroke="#000" stroke-width="2.9"/>
<line x1="654.8" y1="1168.27" x2="668.1" y2="1168.27" stroke="#000" stroke-width="2.9"/>
<line x1="714.8" y1="1270" x2="714.8" y2="1282.8" stroke="#000" stroke-width="2.9"/>
<line x1="785.7" y1="1270" x2="785.7" y2="1282.8" stroke="#000" stroke-width="2.9"/>
<line x1="856.2" y1="1270" x2="856.2" y2="1282.8" stroke="#000" stroke-width="2.9"/>
<line x1="926.5" y1="1270" x2="926.5" y2="1282.8" stroke="#000" stroke-width="2.9"/>
<line x1="714.8" y1="1058.2" x2="714.8" y2="1066.1" stroke="#000" stroke-width="2.9"/>
<line x1="703" y1="1058.2" x2="726.6" y2="1058.2" stroke="#000" stroke-width="2.9"/>
<line x1="785.7" y1="1000.6" x2="785.7" y2="1013.6" stroke="#000" stroke-width="2.9"/>
<line x1="774" y1="1000.6" x2="797.4" y2="1000.6" stroke="#000" stroke-width="2.9"/>
<line x1="856.2" y1="1072.6" x2="856.2" y2="1079.8" stroke="#000" stroke-width="2.9"/>
<line x1="844.5" y1="1072.6" x2="867.9" y2="1072.6" stroke="#000" stroke-width="2.9"/>
<line x1="926.5" y1="1042.5" x2="926.5" y2="1051.9" stroke="#000" stroke-width="2.9"/>
<line x1="914.7" y1="1042.5" x2="938.3" y2="1042.5" stroke="#000" stroke-width="2.9"/>
<g fill="#000">
<circle cx="703.03" cy="1048.12" r="3.6"/>
<circle cx="715.22" cy="1051.45" r="3.6"/>
<circle cx="727.4" cy="1050.12" r="3.6"/>
<circle cx="715.22" cy="1069.17" r="3.6"/>
<circle cx="715.22" cy="1082.9" r="3.6"/>
<circle cx="715.22" cy="1096.63" r="3.6"/>
<circle cx="785.65" cy="967.28" r="3.6"/>
<circle cx="785.65" cy="992.08" r="3.6"/>
<circle cx="785.65" cy="1003.82" r="3.6"/>
<circle cx="785.65" cy="1021.54" r="3.6"/>
<circle cx="779.45" cy="1050.78" r="3.6"/>
<circle cx="791.63" cy="1045.91" r="3.6"/>
<circle cx="856.09" cy="1059.2" r="3.6"/>
<circle cx="849.89" cy="1071.38" r="3.6"/>
<circle cx="862.07" cy="1072.93" r="3.6"/>
<circle cx="849.89" cy="1078.47" r="3.6"/>
<circle cx="849.89" cy="1098.4" r="3.6"/>
<circle cx="862.07" cy="1096.63" r="3.6"/>
<circle cx="926.75" cy="1012.68" r="3.6"/>
<circle cx="926.75" cy="1041.26" r="3.6"/>
<circle cx="938.93" cy="1057.43" r="3.6"/>
<circle cx="926.75" cy="1063.41" r="3.6"/>
<circle cx="914.12" cy="1069.61" r="3.6"/>
<circle cx="938.93" cy="1067.84" r="3.6"/>
</g>
</g>
<g>
<rect x="1168.95" y="1068.5" width="43.9" height="201.5" fill="#908EFC" stroke="#000" stroke-width="3"/>
<rect x="1239.55" y="1124.9" width="43.9" height="145.1" fill="#FF7F7F" stroke="#000" stroke-width="3"/>
<rect x="1309.65" y="1084.4" width="43.9" height="185.6" fill="#22D8CE" stroke="#000" stroke-width="3"/>
<rect x="1380.05" y="1078.2" width="43.9" height="191.8" fill="#FDC453" stroke="#000" stroke-width="3"/>
<line x1="1144.6" y1="963.35" x2="1144.6" y2="1271.45" stroke="#000" stroke-width="2.9"/>
<line x1="1131.3" y1="1270" x2="1450.2" y2="1270" stroke="#000" stroke-width="2.9"/>
<line x1="1131.3" y1="964.8" x2="1144.6" y2="964.8" stroke="#000" stroke-width="2.9"/>
<line x1="1131.3" y1="1066.53" x2="1144.6" y2="1066.53" stroke="#000" stroke-width="2.9"/>
<line x1="1131.3" y1="1168.27" x2="1144.6" y2="1168.27" stroke="#000" stroke-width="2.9"/>
<line x1="1190.9" y1="1270" x2="1190.9" y2="1282.8" stroke="#000" stroke-width="2.9"/>
<line x1="1261.5" y1="1270" x2="1261.5" y2="1282.8" stroke="#000" stroke-width="2.9"/>
<line x1="1331.6" y1="1270" x2="1331.6" y2="1282.8" stroke="#000" stroke-width="2.9"/>
<line x1="1402" y1="1270" x2="1402" y2="1282.8" stroke="#000" stroke-width="2.9"/>
<line x1="1190.9" y1="1059.3" x2="1190.9" y2="1067" stroke="#000" stroke-width="2.9"/>
<line x1="1179.1" y1="1059.3" x2="1202.7" y2="1059.3" stroke="#000" stroke-width="2.9"/>
<line x1="1261.5" y1="1113.8" x2="1261.5" y2="1123.4" stroke="#000" stroke-width="2.9"/>
<line x1="1249.8" y1="1113.8" x2="1273.2" y2="1113.8" stroke="#000" stroke-width="2.9"/>
<line x1="1331.6" y1="1076.5" x2="1331.6" y2="1082.9" stroke="#000" stroke-width="2.9"/>
<line x1="1319.9" y1="1076.5" x2="1343.3" y2="1076.5" stroke="#000" stroke-width="2.9"/>
<line x1="1402" y1="1067" x2="1402" y2="1076.7" stroke="#000" stroke-width="2.9"/>
<line x1="1390.2" y1="1067" x2="1413.8" y2="1067" stroke="#000" stroke-width="2.9"/>
<g fill="#000">
<circle cx="1185.12" cy="1046.35" r="3.6"/>
<circle cx="1197.52" cy="1048.12" r="3.6"/>
<circle cx="1191.32" cy="1056.98" r="3.6"/>
<circle cx="1185.12" cy="1079.58" r="3.6"/>
<circle cx="1197.52" cy="1083.56" r="3.6"/>
<circle cx="1185.12" cy="1088.44" r="3.6"/>
<circle cx="1261.32" cy="1097.3" r="3.6"/>
<circle cx="1255.11" cy="1107.26" r="3.6"/>
<circle cx="1267.3" cy="1107.93" r="3.6"/>
<circle cx="1261.32" cy="1121.66" r="3.6"/>
<circle cx="1267.3" cy="1148.91" r="3.6"/>
<circle cx="1255.11" cy="1154.22" r="3.6"/>
<circle cx="1325.55" cy="1067.39" r="3.6"/>
<circle cx="1337.73" cy="1068.5" r="3.6"/>
<circle cx="1325.55" cy="1082.46" r="3.6"/>
<circle cx="1334.85" cy="1082.46" r="3.6"/>
<circle cx="1337.73" cy="1088.44" r="3.6"/>
<circle cx="1331.53" cy="1109.48" r="3.6"/>
<circle cx="1401.75" cy="1042.36" r="3.6"/>
<circle cx="1395.77" cy="1066.95" r="3.6"/>
<circle cx="1407.51" cy="1071.82" r="3.6"/>
<circle cx="1395.77" cy="1086.22" r="3.6"/>
<circle cx="1407.95" cy="1087.77" r="3.6"/>
<circle cx="1401.75" cy="1103.28" r="3.6"/>
</g>
</g>
<text transform="translate(4.05,973.2) scale(1.0038,1)" font-size="49.45" font-weight="bold">E</text>
<line x1="93.4" y1="938.3" x2="93.4" y2="1269.6" stroke="#000" stroke-width="2.8"/>
<text transform="translate(79,1167.36) rotate(-90) scale(0.9750,1)" font-size="28" font-weight="bold">Doudenum</text>
<text transform="translate(131.1,1281.14) rotate(-90)" font-size="25" font-weight="bold" stroke="#000" stroke-width="0.2" stroke-linejoin="round">Relative protein expression</text>
<text transform="translate(145.91,973.06)" font-size="22.6" font-weight="bold">1.5</text>
<text transform="translate(146.19,1074.9)" font-size="22.6" font-weight="bold">1.0</text>
<text transform="translate(145.91,1176.64)" font-size="22.6" font-weight="bold">0.5</text>
<text transform="translate(146.19,1278.37)" font-size="22.6" font-weight="bold">0.0</text>
<text transform="translate(605.1,1281.14) rotate(-90)" font-size="25" font-weight="bold" stroke="#000" stroke-width="0.2" stroke-linejoin="round">Relative protein expression</text>
<text transform="translate(619.91,973.06)" font-size="22.6" font-weight="bold">1.5</text>
<text transform="translate(620.19,1074.9)" font-size="22.6" font-weight="bold">1.0</text>
<text transform="translate(619.91,1176.64)" font-size="22.6" font-weight="bold">0.5</text>
<text transform="translate(620.19,1278.37)" font-size="22.6" font-weight="bold">0.0</text>
<text transform="translate(1081.6,1281.14) rotate(-90)" font-size="25" font-weight="bold" stroke="#000" stroke-width="0.2" stroke-linejoin="round">Relative protein expression</text>
<text transform="translate(1096.41,973.06)" font-size="22.6" font-weight="bold">1.5</text>
<text transform="translate(1096.69,1074.9)" font-size="22.6" font-weight="bold">1.0</text>
<text transform="translate(1096.41,1176.64)" font-size="22.6" font-weight="bold">0.5</text>
<text transform="translate(1096.69,1278.37)" font-size="22.6" font-weight="bold">0.0</text>
<text transform="translate(223.23,1307.4)" font-size="23" font-weight="bold" stroke="#000" stroke-width="0.3" stroke-linejoin="round" letter-spacing="0.82">CK</text>
<text transform="translate(296.06,1307.4)" font-size="23" font-weight="bold" stroke="#000" stroke-width="0.3" stroke-linejoin="round" letter-spacing="1.04">ST</text>
<text transform="translate(365.4,1307.4)" font-size="23" font-weight="bold" stroke="#000" stroke-width="0.3" stroke-linejoin="round" letter-spacing="1.24">LA</text>
<text transform="translate(414.2,1307.4)" font-size="23" font-weight="bold" stroke="#000" stroke-width="0.3" stroke-linejoin="round" letter-spacing="0.4">LA+ST</text>
<text transform="translate(697.63,1307.4)" font-size="23" font-weight="bold" stroke="#000" stroke-width="0.3" stroke-linejoin="round" letter-spacing="0.82">CK</text>
<text transform="translate(770.46,1307.4)" font-size="23" font-weight="bold" stroke="#000" stroke-width="0.3" stroke-linejoin="round" letter-spacing="1.04">ST</text>
<text transform="translate(840,1307.4)" font-size="23" font-weight="bold" stroke="#000" stroke-width="0.3" stroke-linejoin="round" letter-spacing="1.24">LA</text>
<text transform="translate(888.5,1307.4)" font-size="23" font-weight="bold" stroke="#000" stroke-width="0.3" stroke-linejoin="round" letter-spacing="0.4">LA+ST</text>
<text transform="translate(1173.73,1307.4)" font-size="23" font-weight="bold" stroke="#000" stroke-width="0.3" stroke-linejoin="round" letter-spacing="0.82">CK</text>
<text transform="translate(1246.26,1307.4)" font-size="23" font-weight="bold" stroke="#000" stroke-width="0.3" stroke-linejoin="round" letter-spacing="1.04">ST</text>
<text transform="translate(1315.4,1307.4)" font-size="23" font-weight="bold" stroke="#000" stroke-width="0.3" stroke-linejoin="round" letter-spacing="1.24">LA</text>
<text transform="translate(1364,1307.4)" font-size="23" font-weight="bold" stroke="#000" stroke-width="0.3" stroke-linejoin="round" letter-spacing="0.4">LA+ST</text>
<text transform="translate(299.6,919.8) scale(0.9700,1)" font-size="25" font-weight="bold" stroke="#000" stroke-width="0.4" stroke-linejoin="round">AKT</text>
<text transform="translate(734.4,918.4)" font-size="24.6" font-weight="bold" stroke="#000" stroke-width="0.4" stroke-linejoin="round" letter-spacing="0.51">p65-NF-κB</text>
<text transform="translate(1250.01,921.1)" font-size="25" font-weight="bold" stroke="#000" stroke-width="0.4" stroke-linejoin="round" letter-spacing="-0.3">IKKα</text>
<text transform="translate(707.97,1027.2)" font-size="23.4" font-weight="bold" stroke="#000" stroke-width="0.3" stroke-linejoin="round">b</text>
<text transform="translate(779.57,960.8)" font-size="23.4" font-weight="bold" stroke="#000" stroke-width="0.3" stroke-linejoin="round">a</text>
<text transform="translate(850.17,1034.3)" font-size="23.4" font-weight="bold" stroke="#000" stroke-width="0.3" stroke-linejoin="round">b</text>
<text transform="translate(921.07,1002.9)" font-size="23.4" font-weight="bold" stroke="#000" stroke-width="0.3" stroke-linejoin="round">b</text>
<text transform="translate(1185.37,1017.9)" font-size="23.4" font-weight="bold" stroke="#000" stroke-width="0.3" stroke-linejoin="round">a</text>
<text transform="translate(1255.97,1076)" font-size="23.4" font-weight="bold" stroke="#000" stroke-width="0.3" stroke-linejoin="round">b</text>
<text transform="translate(1325.47,1046.7)" font-size="23.4" font-weight="bold" stroke="#000" stroke-width="0.3" stroke-linejoin="round">a</text>
<text transform="translate(1395.77,1022.4)" font-size="23.4" font-weight="bold" stroke="#000" stroke-width="0.3" stroke-linejoin="round">a</text>
</svg>
</body>
</html>
